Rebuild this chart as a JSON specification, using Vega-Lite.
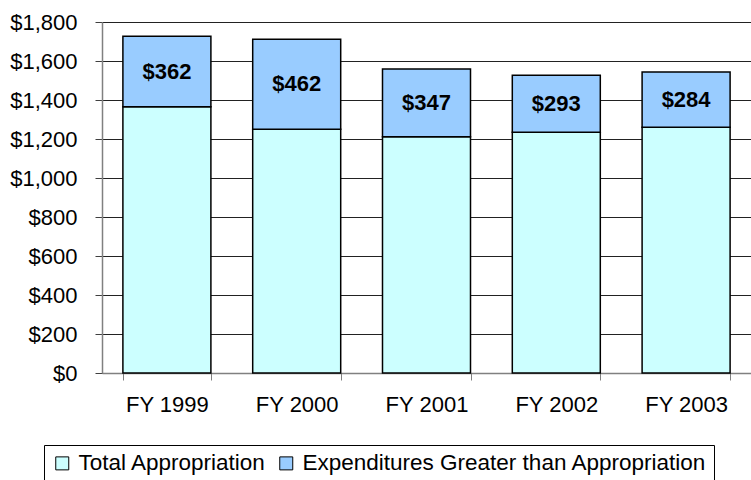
{
  "$schema": "https://vega.github.io/schema/vega-lite/v6.json",
  "width": 649,
  "height": 351,
  "autosize": {"type": "none"},
  "padding": {"left": 102, "top": 22, "right": 0, "bottom": 107},
  "background": "white",
  "config": {"view": {"stroke": null}, "font": "Liberation Sans"},
  "data": {"values": [
    {"year": "FY 1999", "series": "Total Appropriation", "value": 1365},
    {"year": "FY 1999", "series": "Expenditures Greater than Appropriation", "value": 362},
    {"year": "FY 2000", "series": "Total Appropriation", "value": 1250},
    {"year": "FY 2000", "series": "Expenditures Greater than Appropriation", "value": 462},
    {"year": "FY 2001", "series": "Total Appropriation", "value": 1212},
    {"year": "FY 2001", "series": "Expenditures Greater than Appropriation", "value": 347},
    {"year": "FY 2002", "series": "Total Appropriation", "value": 1234},
    {"year": "FY 2002", "series": "Expenditures Greater than Appropriation", "value": 293},
    {"year": "FY 2003", "series": "Total Appropriation", "value": 1260},
    {"year": "FY 2003", "series": "Expenditures Greater than Appropriation", "value": 284}
  ]},
  "layer": [
    {
      "mark": {"type": "bar", "stroke": "black", "strokeWidth": 1.5},
      "encoding": {
        "x": {
          "field": "year", "type": "nominal", "sort": null,
          "scale": {"paddingInner": 0.322, "paddingOuter": 0.161},
          "axis": {
            "title": null, "labelAngle": 0, "labelFontSize": 22, "labelColor": "black",
            "labelPadding": 14, "tickBand": "extent", "tickSize": 7, "tickColor": "#808080",
            "domainColor": "#808080", "domainWidth": 1.5, "grid": false
          }
        },
        "y": {
          "field": "value", "type": "quantitative", "stack": "zero",
          "scale": {"domain": [0, 1800], "nice": false},
          "axis": {
            "title": null, "values": [0, 200, 400, 600, 800, 1000, 1200, 1400, 1600, 1800],
            "format": "$,.0f", "labelFontSize": 22, "labelColor": "black", "labelPadding": 18,
            "tickSize": 7, "tickColor": "#404040", "domainColor": "#808080", "domainWidth": 1.5,
            "grid": true, "gridColor": "#222222", "gridWidth": 1
          }
        },
        "order": {"field": "series", "sort": "descending"},
        "color": {
          "field": "series", "type": "nominal",
          "scale": {
            "domain": ["Total Appropriation", "Expenditures Greater than Appropriation"],
            "range": ["#CCFFFF", "#99CCFF"]
          },
          "legend": {
            "title": null, "orient": "none", "direction": "horizontal",
            "legendX": -58, "legendY": 423,
            "strokeColor": "black", "fillColor": "white", "padding": 7,
            "symbolType": "square", "symbolSize": 169, "symbolStrokeColor": "black",
            "symbolStrokeWidth": 1, "symbolOpacity": 1,
            "labelFontSize": 22.5, "labelColor": "black", "labelOffset": 5,
            "columnPadding": 8, "labelLimit": 500
          }
        }
      }
    },
    {
      "transform": [
        {"stack": "value", "groupby": ["year"], "sort": [{"field": "series", "order": "descending"}], "as": ["v0", "v1"]},
        {"filter": "datum.series !== 'Total Appropriation'"},
        {"fold": ["v0", "v1"], "as": ["k", "pos"]}
      ],
      "mark": {"type": "text", "fontSize": 22, "fontWeight": "bold", "color": "black", "baseline": "middle"},
      "encoding": {
        "x": {
          "field": "year", "type": "nominal", "sort": null,
          "axis": {
            "title": null, "labelAngle": 0, "labelFontSize": 22, "labelColor": "black",
            "labelPadding": 14, "tickBand": "extent", "tickSize": 7, "tickColor": "#808080",
            "domainColor": "#808080", "domainWidth": 1.5, "grid": false
          }
        },
        "y": {
          "aggregate": "mean", "field": "pos", "type": "quantitative",
          "axis": {
            "title": null, "values": [0, 200, 400, 600, 800, 1000, 1200, 1400, 1600, 1800],
            "format": "$,.0f", "labelFontSize": 22, "labelColor": "black", "labelPadding": 18,
            "tickSize": 7, "tickColor": "#404040", "domainColor": "#808080", "domainWidth": 1.5,
            "grid": true, "gridColor": "#222222", "gridWidth": 1
          }
        },
        "text": {"aggregate": "max", "field": "value", "type": "quantitative", "format": "$,.0f"}
      }
    }
  ]
}
